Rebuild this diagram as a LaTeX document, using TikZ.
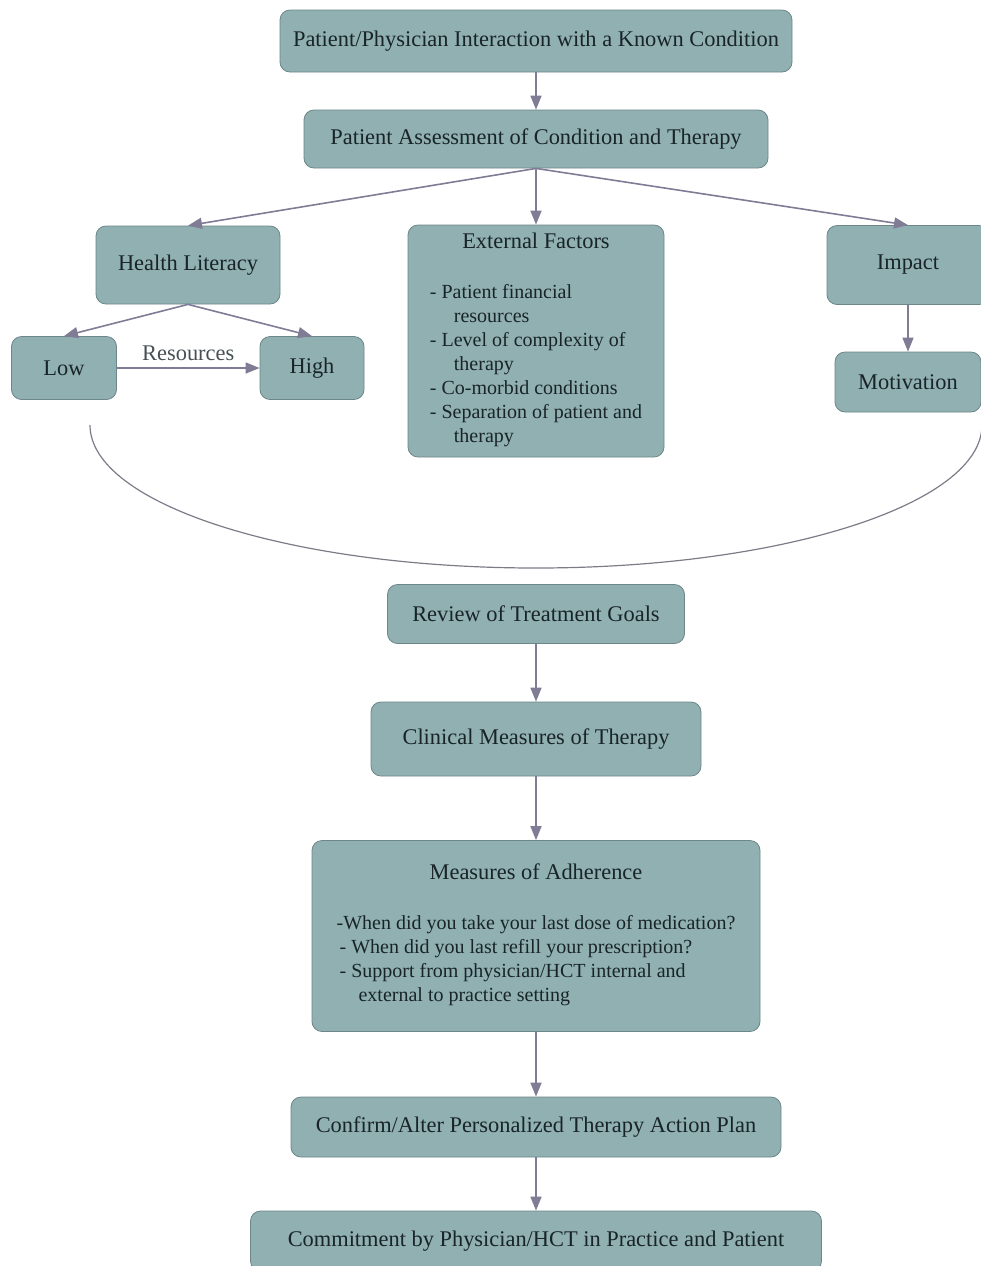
\documentclass[tikz,border=0pt]{standalone}
\usepackage{fontspec}
\setmainfont{Liberation Serif}
\usetikzlibrary{calc,shapes,arrows.meta}
\definecolor{BoxFill}{RGB}{145,176,178}
\definecolor{BoxLine}{RGB}{108,134,137}
\definecolor{BoxText}{RGB}{24,36,40}
\definecolor{FlowArrow}{RGB}{128,124,150}
\definecolor{ArcLine}{RGB}{124,124,136}

\begin{document}
\begin{tikzpicture}[x=0.5pt,y=-0.5pt]
			\tikzstyle{flowbox}=[draw=BoxLine, fill=BoxFill, shape=rectangle, rounded corners=5pt, align=center, text=BoxText, inner sep=2pt, font=\fontsize{11.2}{13}\selectfont];
			\tikzstyle{flow}=[draw=FlowArrow, line width=0.8pt, -{Triangle[length=7pt,width=5.5pt]}];
			\useasboundingbox (0,0) rectangle (981,1266);
			\node [flowbox, minimum width=256pt, minimum height=31pt] (interact) at (536,41) {Patient/Physician Interaction with a Known Condition};
			\node [flowbox, minimum width=232pt, minimum height=29pt] (assess) at (536,139) {Patient Assessment of Condition and Therapy};
			\node [flowbox, minimum width=92pt, minimum height=39pt] (literacy) at (188,265) {Health Literacy};
			\node [flowbox, minimum width=128pt, minimum height=116pt] (external) at (536,341) {External Factors\\[12pt]
				{\fontsize{10}{12}\selectfont\begin{tabular}[t]{@{}l@{}}
					- Patient financial\\ \hspace*{12pt}resources\\
					- Level of complexity of\\ \hspace*{12pt}therapy\\
					- Co-morbid conditions\\
					- Separation of patient and\\ \hspace*{12pt}therapy
				\end{tabular}}};
			\node [flowbox, minimum width=81pt, minimum height=39.5pt] (impact) at (908,265) {Impact};
			\node [flowbox, minimum width=52.5pt, minimum height=31.5pt] (low) at (64,368) {Low};
			\node [flowbox, minimum width=52pt, minimum height=31.5pt] (high) at (312,368) {High};
			\node [flowbox, minimum width=73pt, minimum height=30pt] (motivation) at (908,382) {Motivation};
			\node [flowbox, minimum width=148.5pt, minimum height=29.5pt] (review) at (536,614) {Review of Treatment Goals};
			\node [flowbox, minimum width=165pt, minimum height=37pt] (clinical) at (536,739) {Clinical Measures of Therapy};
			\node [flowbox, minimum width=224pt, minimum height=95.5pt] (adherence) at (536,936) {Measures of Adherence\\[12pt]
				{\fontsize{10}{12}\selectfont\begin{tabular}[t]{@{}l@{}}
					-When did you take your last dose of medication?\\
					\hspace*{1.5pt}- When did you last refill your prescription?\\
					\hspace*{1.5pt}- Support from physician/HCT internal and\\ \hspace*{11pt}external to practice setting
				\end{tabular}}};
			\node [flowbox, minimum width=245pt, minimum height=30pt] (confirm) at (536,1127) {Confirm/Alter Personalized Therapy Action Plan};
			\node [flowbox, minimum width=285.5pt, minimum height=30pt] (commit) at (536,1241) {Commitment by Physician/HCT in Practice and Patient};
			% connectors
			\draw [flow] (interact) -- (assess);
			\draw [flow] (assess.south) -- (literacy.north);
			\draw [flow] (assess.south) -- (external.north);
			\draw [flow] (assess.south) -- (impact.north);
			\draw [flow] (literacy.south) -- (low.north);
			\draw [flow] (literacy.south) -- (high.north);
			\draw [flow] (low) -- node[above, text=BoxText!80, font=\fontsize{11.2}{13}\selectfont]{Resources} (high);
			\draw [flow] (impact) -- (motivation);
			\draw [flow] (review) -- (clinical);
			\draw [flow] (clinical) -- (adherence);
			\draw [flow] (adherence) -- (confirm);
			\draw [flow] (confirm) -- (commit);
			% the curve under the three branches
			\coordinate (arcleft) at (90,425);
			\draw [ArcLine, line width=0.6pt] (arcleft) arc[start angle=180, end angle=360, x radius=223pt, y radius=71.5pt];
		\end{tikzpicture}
\end{document}
